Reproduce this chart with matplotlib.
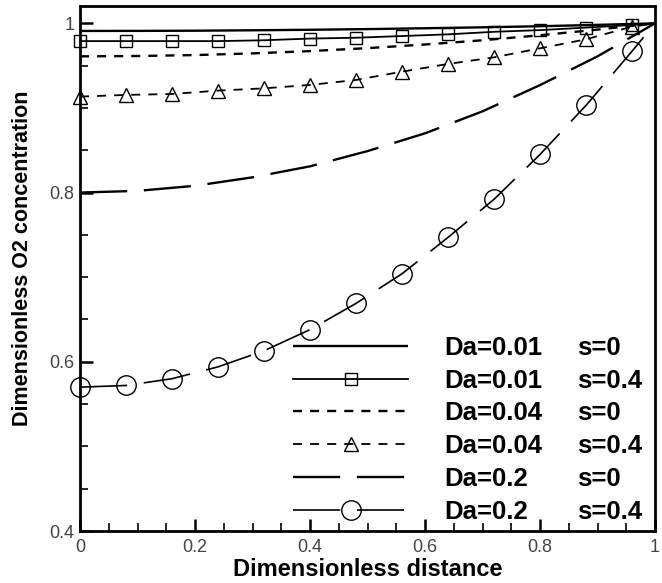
import matplotlib
matplotlib.use('Agg')
import matplotlib.pyplot as plt
from matplotlib.ticker import MultipleLocator, FuncFormatter

# ---- data ----
x_s0 = [0.0, 0.1, 0.2, 0.3, 0.4, 0.5, 0.6, 0.7, 0.8, 0.9, 1.0]
c_da001_s0 = [0.991, 0.9911, 0.9913, 0.9918, 0.9924, 0.9932, 0.9942, 0.9953, 0.9966, 0.9982, 1.0]
c_da004_s0 = [0.961, 0.9614, 0.9625, 0.9645, 0.9672, 0.9707, 0.9750, 0.9800, 0.9859, 0.9926, 1.0]
c_da02_s0 = [0.800, 0.802, 0.808, 0.818, 0.831, 0.849, 0.870, 0.896, 0.927, 0.961, 1.0]

x_s04 = [0.0, 0.08, 0.16, 0.24, 0.32, 0.40, 0.48, 0.56, 0.64, 0.72, 0.80, 0.88, 0.96, 1.0]
c_da001_s04 = [0.979, 0.979, 0.979, 0.979, 0.980, 0.982, 0.983, 0.985, 0.987, 0.990, 0.992, 0.995, 0.998, 1.0]
c_da004_s04 = [0.9134, 0.9154, 0.9165, 0.9205, 0.9232, 0.9272, 0.9331, 0.9429, 0.9520, 0.9598, 0.9705, 0.9811, 0.9961, 1.0]
c_da02_s04 = [0.570, 0.572, 0.580, 0.594, 0.613, 0.638, 0.669, 0.704, 0.747, 0.792, 0.845, 0.903, 0.967, 1.0]

labels_da = ["Da=0.01", "Da=0.01", "Da=0.04", "Da=0.04", "Da=0.2", "Da=0.2"]
labels_s = ["s=0", "s=0.4", "s=0", "s=0.4", "s=0", "s=0.4"]

xlabel = "Dimensionless distance"
ylabel = "Dimensionless O2 concentration"

# ---- styling ----
plt.rcParams['lines.scale_dashes'] = False
plt.rcParams['font.family'] = ['Liberation Sans', 'DejaVu Sans']

W, H = 662, 583
fig = plt.figure(figsize=(W / 100, H / 100), dpi=100)
ax = fig.add_axes([80 / W, (H - 531) / H, 575 / W, 525 / H])

short = (6.5, 5.8)
long_ = (34, 12)
mk_idx = list(range(13))

lines = []
lines += ax.plot(x_s0, c_da001_s0, color='k', lw=1.7, solid_capstyle='butt')
lines += ax.plot(x_s04, c_da001_s04, color='k', lw=1.3, marker='s', ms=9,
                 mfc='none', mec='k', mew=1.0, markevery=mk_idx, clip_on=False)
lines += ax.plot(x_s0, c_da004_s0, color='k', lw=1.7, dashes=short)
lines += ax.plot(x_s04, c_da004_s04, color='k', lw=1.3, dashes=short, marker='^', ms=10.5,
                 mfc='none', mec='k', mew=1.0, markevery=mk_idx, clip_on=False)
lines += ax.plot(x_s0, c_da02_s0, color='k', lw=1.7, dashes=long_)
lines += ax.plot(x_s04, c_da02_s04, color='k', lw=1.2, dashes=long_, marker='o', ms=14,
                 mfc='none', mec='k', mew=1.0, markevery=mk_idx, clip_on=False)

ax.set_xlim(0, 1)
ax.set_ylim(0.4, 1.0205)

ax.xaxis.set_major_locator(MultipleLocator(0.2))
ax.xaxis.set_minor_locator(MultipleLocator(0.05))
ax.yaxis.set_major_locator(MultipleLocator(0.2))
ax.yaxis.set_minor_locator(MultipleLocator(0.05))
fmt = FuncFormatter(lambda v, p: "%g" % round(v, 3))
ax.xaxis.set_major_formatter(fmt)
ax.yaxis.set_major_formatter(fmt)

ax.tick_params(which='major', direction='in', length=9, width=1.8,
               top=False, right=False, labelsize=13, labelcolor='#444444')
ax.tick_params(axis='x', which='major', pad=6)
ax.tick_params(axis='y', which='major', pad=4)
ax.tick_params(which='minor', direction='in', length=5.5, width=1.2, top=False, right=False)

for sp in ax.spines.values():
    sp.set_linewidth(2.0)

ax.set_xlabel(xlabel, fontsize=17, fontweight='bold')
ax.set_ylabel(ylabel, fontsize=15.5, fontweight='bold')
ax.xaxis.label.set_verticalalignment('center')
ax.yaxis.label.set_verticalalignment('center')
ax.xaxis.set_label_coords(0.5, (531 - 570) / 525)
ax.yaxis.set_label_coords((23 - 80) / 575, 0.52)

leg = ax.legend(lines, labels_da, loc='upper left',
                bbox_to_anchor=(293 / W, (H - 336) / H), bbox_transform=fig.transFigure,
                frameon=False, borderpad=0, borderaxespad=0, handlelength=4.48,
                handletextpad=1.4, labelspacing=0.34, numpoints=1,
                prop={'family': 'Liberation Sans', 'weight': 'bold', 'size': 18.5})
leg.set_zorder(5)

fig.canvas.draw()
for t, s in zip(leg.get_texts(), labels_s):
    bb = t.get_window_extent()
    fig.text(577 / W, bb.y0 / H, s, fontsize=18.5, fontweight='bold',
             family='Liberation Sans', ha='left', va='bottom')

fig.savefig('out.png', dpi=100)
